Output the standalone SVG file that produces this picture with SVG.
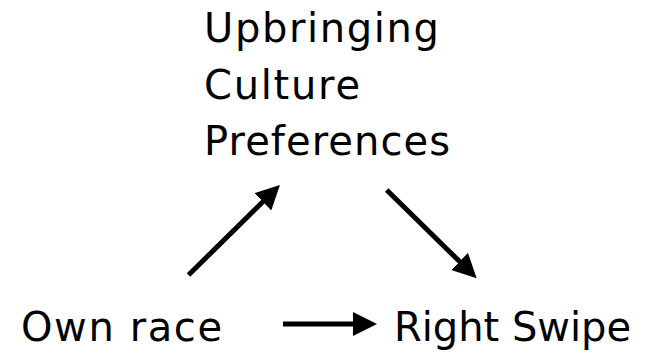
<svg xmlns="http://www.w3.org/2000/svg" width="666" height="354" viewBox="0 0 666 354">
  <style>
    .label { font-family: "DejaVu Sans", "Liberation Sans", sans-serif; font-size: 40px; fill: #000; }
    .edge { stroke: #000; stroke-width: 5; fill: none; marker-end: url(#head); }
  </style>
  <defs>
    <marker id="head" markerUnits="userSpaceOnUse" viewBox="0 0 24 24" refX="4" refY="12" markerWidth="24" markerHeight="24" orient="auto">
      <path d="M0,0 L24,12 L0,24 Z" fill="#000"/>
    </marker>
  </defs>
  <rect width="666" height="354" fill="#fff"/>

  <g id="mediators">
    <text class="label" x="204" y="42" textLength="235" lengthAdjust="spacing">Upbringing</text>
    <text class="label" x="204" y="99" textLength="156" lengthAdjust="spacing">Culture</text>
    <text class="label" x="204" y="155" textLength="246" lengthAdjust="spacing">Preferences</text>
  </g>
  <g id="own-race">
    <text class="label" x="21" y="341" textLength="201" lengthAdjust="spacing">Own race</text>
  </g>
  <g id="right-swipe">
    <text class="label" x="394" y="341" textLength="237" lengthAdjust="spacing">Right Swipe</text>
  </g>

  <g id="connectors">
    <line class="edge" x1="188.5" y1="275" x2="265.7" y2="199"/>
    <line class="edge" x1="386.7" y1="190" x2="462.4" y2="264.3"/>
    <line class="edge" x1="283" y1="324" x2="357" y2="324"/>
  </g>
</svg>
